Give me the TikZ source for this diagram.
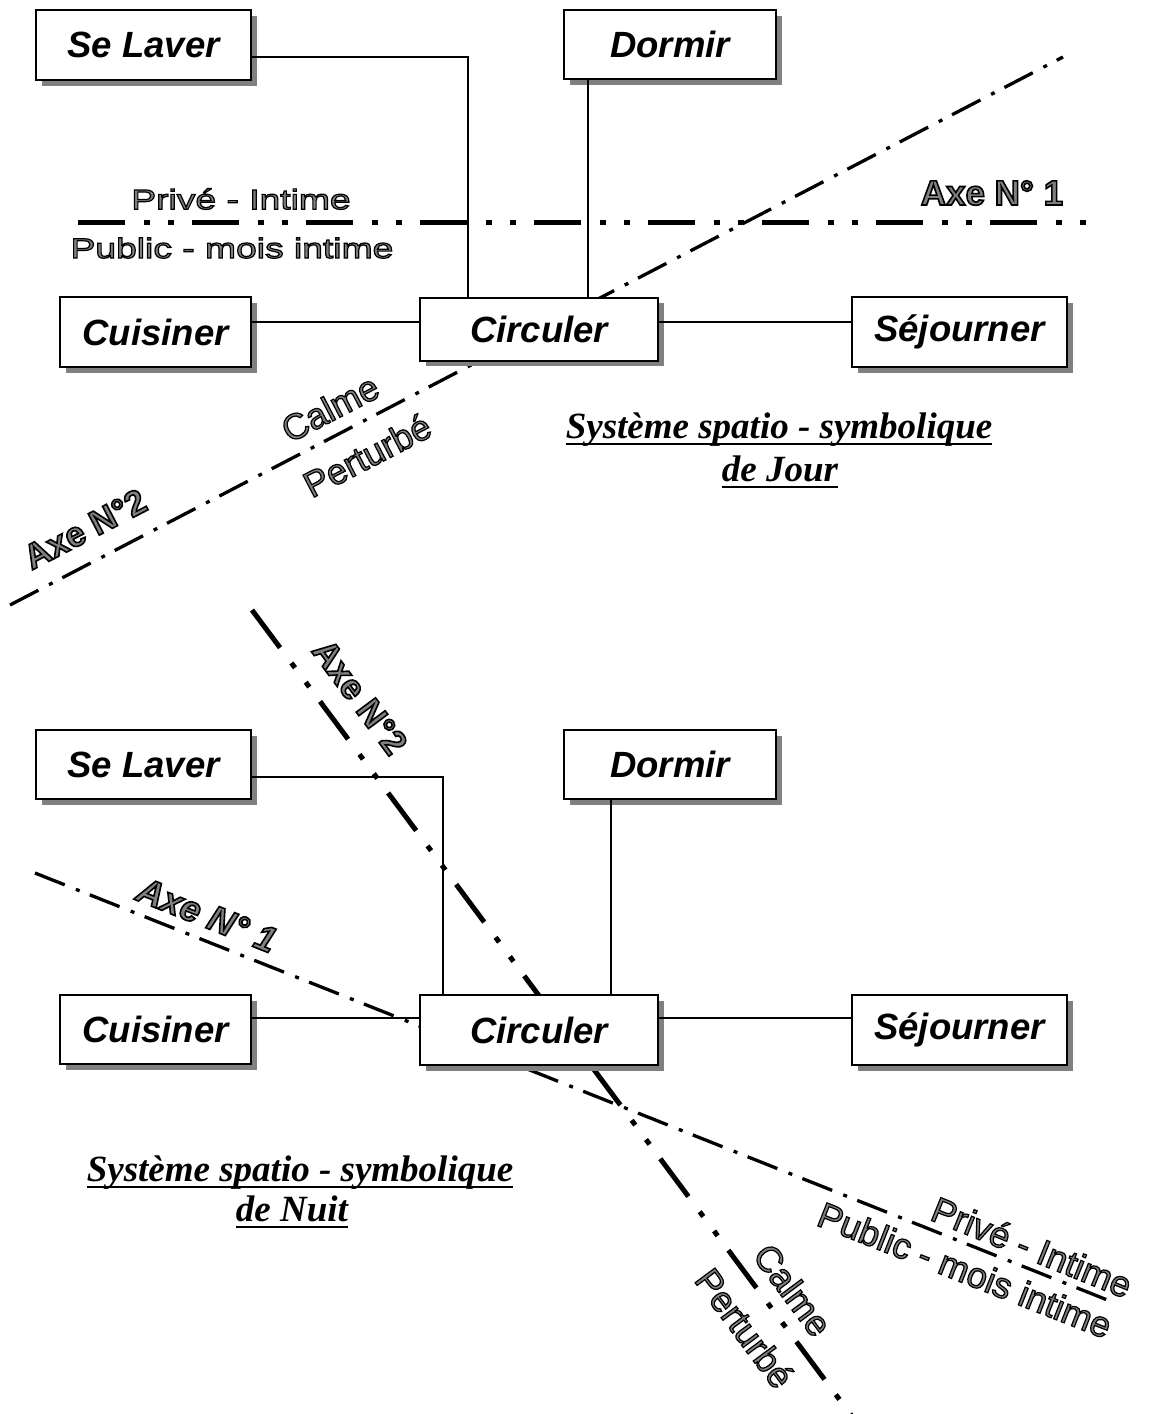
\documentclass[tikz,border=0pt]{standalone}
\usepackage{fontspec}
\setmainfont{Liberation Sans}
\newfontfamily\widesans{Liberation Sans}[FakeStretch=1.33]
\newfontfamily\titleserif{Liberation Serif}
\usetikzlibrary{shadows}
\definecolor{letterfill}{HTML}{808080}
\definecolor{shadowgray}{HTML}{808080}
% glyphs filled with the current colour and stroked in black
\newcommand{\hollowtext}[2]{\special{pdf:literal 2 Tr 0 G #1 w}#2\special{pdf:literal 0 Tr}}

\tikzset{
  room/.style={draw, line width=2pt, fill=white, inner sep=0pt,
    minimum width=215pt, minimum height=70pt,
    font=\fontsize{36.5}{40}\selectfont\bfseries\itshape,
    drop shadow={shadow xshift=5.5pt, shadow yshift=-5.5pt, fill=shadowgray, opacity=1}},
  link/.style={line width=1.6pt},
  axisbold/.style={line width=5pt, dash pattern=on 47pt off 19pt on 6pt off 18pt on 6pt off 18pt},
  axisthin/.style={line width=3.3pt, dash pattern=on 32pt off 12pt on 4pt off 11pt},
  zone/.style={inner sep=0pt, text=letterfill, font=\fontsize{36}{40}\selectfont},
  widezone/.style={zone, font=\widesans\fontsize{28}{32}\selectfont},
  axename/.style={inner sep=0pt, text=letterfill, font=\fontsize{35}{40}\selectfont\bfseries},
  caption/.style={inner sep=0pt, anchor=base, font=\titleserif\fontsize{37}{42}\selectfont\bfseries\itshape},
  underl/.style={line width=2.5pt},
}

\begin{document}
\begin{tikzpicture}[x=1pt, y=-1pt]
\useasboundingbox (0,0) rectangle (1150,1414);

% ---------------- day system ----------------
\coordinate (d1s) at (78,222);
\coordinate (d1e) at (1092,222);
\coordinate (d2s) at (10,605);
\coordinate (d2e) at (1063,57);
\draw[axisbold] (d1s) -- (d1e);
\draw[axisthin] (d2s) -- (d2e);

\node[room, minimum width=215pt, minimum height=70pt] (lav1) at (143.5,45) {Se Laver};
\node[room, minimum width=212pt, minimum height=69pt] (dor1) at (670,44.5) {Dormir};
\node[room, minimum width=191pt, minimum height=70pt] (cui1) at (155.5,332) {Cuisiner};
\node[room, minimum width=238pt, minimum height=63pt] (cir1) at (539,329) {Circuler};
\node[room, minimum width=215pt, minimum height=70pt] (sej1) at (959.5,332) {Séjourner};

\draw[link] ([yshift=-12pt]lav1.east) -| ([xshift=-71pt]cir1.north);
\draw[link] ([xshift=-82pt]dor1.south) -- ([xshift=-82pt]dor1.south |- cir1.north);
\draw[link] ([yshift=10pt]cui1.east) -- ([yshift=10pt]cui1.east -| cir1.west);
\draw[link] ([yshift=7pt]cir1.east) -- ([yshift=7pt]cir1.east -| sej1.west);

\node[widezone] (prive1) at (241,199) {\hollowtext{1.2}{Privé - Intime}};
\node[widezone] (public1) at (232,248) {\hollowtext{1.2}{Public - mois intime}};
\node[axename] (axe1a) at (992,193) {\hollowtext{1.6}{Axe N° 1}};
\node[zone, rotate=27.5] (calme1) at (330,408) {\hollowtext{1.2}{Calme}};
\node[zone, rotate=27.5] (pert1) at (367,455) {\hollowtext{1.2}{Perturbé}};
\node[axename, rotate=27.5] (axe2a) at (85,529) {\hollowtext{1.6}{Axe N°2}};

\node[caption] (capd1) at (779,438) {Système spatio - symbolique};
\node[caption] (capd2) at (780,481) {de Jour};
\draw[underl] ([yshift=-6pt]capd1.base west) -- ([yshift=-6pt]capd1.base east);
\draw[underl] ([yshift=-6pt]capd2.base west) -- ([yshift=-6pt]capd2.base east);

% ---------------- night system ----------------
\coordinate (n2s) at (252,610);
\coordinate (n2e) at (851,1415);
\coordinate (n1s) at (35,873);
\coordinate (n1e) at (1115,1303);
\draw[axisbold] (n2s) -- (n2e);
\draw[axisthin] (n1s) -- (n1e);

\node[room, minimum width=215pt, minimum height=69pt] (lav2) at (143.5,764.5) {Se Laver};
\node[room, minimum width=212pt, minimum height=69pt] (dor2) at (670,764.5) {Dormir};
\node[room, minimum width=191pt, minimum height=69pt] (cui2) at (155.5,1029.5) {Cuisiner};
\node[room, minimum width=238pt, minimum height=70pt] (cir2) at (539,1030) {Circuler};
\node[room, minimum width=215pt, minimum height=70pt] (sej2) at (959.5,1030) {Séjourner};

\draw[link] ([yshift=-12.5pt]lav2.east) -| ([xshift=-96pt]cir2.north);
\draw[link] ([xshift=-59pt]dor2.south) -- ([xshift=-59pt]dor2.south |- cir2.north);
\draw[link] ([yshift=11.5pt]cui2.east) -- ([yshift=11.5pt]cui2.east -| cir2.west);
\draw[link] ([yshift=12pt]cir2.east) -- ([yshift=12pt]cir2.east -| sej2.west);

\node[axename, rotate=-53.4] (axe2b) at (360,697) {\hollowtext{1.6}{Axe N°2}};
\node[axename, font=\fontsize{36}{40}\selectfont\bfseries\itshape, rotate=-21.7] (axe1b) at (207,915) {\hollowtext{1.6}{Axe N° 1}};
\node[zone, rotate=-22] (prive2) at (1032,1247) {\hollowtext{1.2}{Privé - Intime}};
\node[zone, rotate=-21.5] (public2) at (965,1270) {\hollowtext{1.2}{Public - mois intime}};
\node[zone, rotate=-53.4] (calme2) at (793,1290) {\hollowtext{1.2}{Calme}};
\node[zone, rotate=-53.4] (pert2) at (745,1328) {\hollowtext{1.2}{Perturbé}};

\node[caption] (capn1) at (300,1181) {Système spatio - symbolique};
\node[caption] (capn2) at (292,1221) {de Nuit};
\draw[underl] ([yshift=-6pt]capn1.base west) -- ([yshift=-6pt]capn1.base east);
\draw[underl] ([yshift=-6pt]capn2.base west) -- ([yshift=-6pt]capn2.base east);
\end{tikzpicture}
\end{document}
